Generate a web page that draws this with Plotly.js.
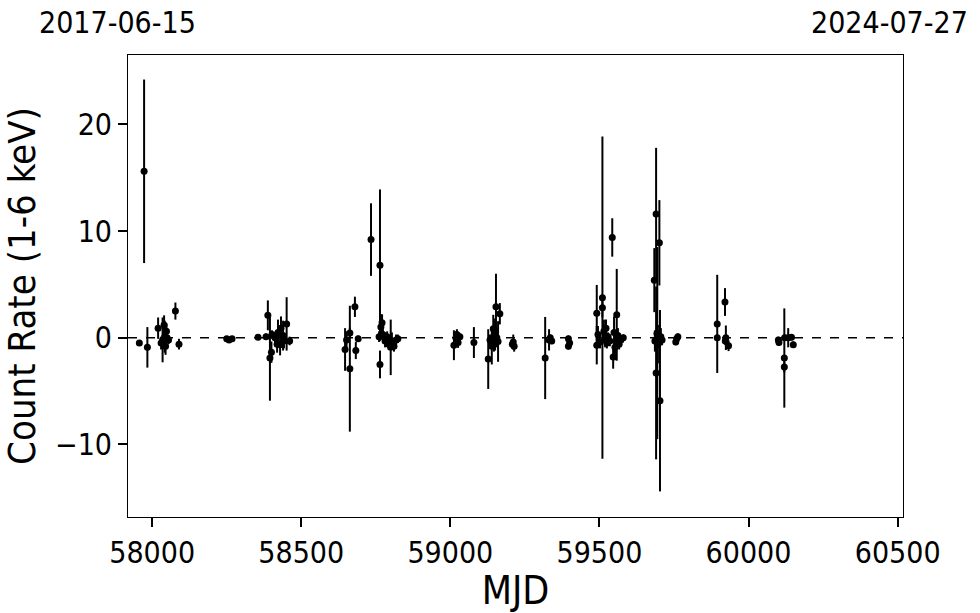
<!DOCTYPE html>
<html>
<head>
<meta charset="utf-8">
<script src="https://cdn.plot.ly/plotly-3.0.1.min.js"></script>
<style>html,body{margin:0;padding:0;background:#fff;}#plot{width:980px;height:613px;}</style>
</head>
<body>
<div id="plot"></div>
<script>
// MJD of each observation
const mjd = [
  57957, 57973, 57984, 58020, 58030, 58035, 58040, 58042, 58045, 58048, 58050, 58055, 58078, 58090,
  58250, 58258, 58268, 58355,
  58382, 58388, 58395, 58400, 58402, 58412, 58419, 58422, 58429, 58432, 58439, 58442, 58451, 58461,
  58647, 58652, 58663, 58663, 58680, 58683, 58691,
  58734, 58761, 58764, 58764, 58767, 58771, 58774, 58781, 58788, 58793, 58800, 58804, 58811, 58818, 58824,
  59012, 59019, 59022, 59026, 59032, 59079,
  59127, 59133, 59139, 59144, 59146, 59150, 59153, 59156, 59160, 59166,
  59208, 59211, 59214,
  59318, 59331, 59335, 59340, 59396, 59396, 59400,
  59491, 59491, 59495, 59502, 59510, 59510, 59515, 59519, 59522, 59525, 59529, 59535, 59543, 59546,
  59549, 59552, 59558, 59559, 59562, 59566, 59572, 59580,
  59684, 59686, 59690, 59690, 59693, 59694, 59696, 59701, 59703, 59706, 59710,
  59756, 59759, 59763,
  59895, 59895, 59921, 59922, 59924, 59933,
  60100, 60102, 60120, 60120, 60121, 60133, 60144, 60150
];
// Count rate (1-6 keV)
const rate = [
  -0.5, 15.6, -0.9, 0.9, -0.5, -0.2, 1.2, 0.1, -0.8, 0.6, 0.0, -0.2, 2.5, -0.6,
  -0.1, -0.2, -0.1, 0.05,
  0.1, 2.1, -1.9, -1.35, 0.3, 0.0, -0.6, 0.5, -0.65, 0.9, 0.2, -0.3, 1.3, -0.3,
  -1.1, -0.2, 0.45, -2.9, 2.9, -1.2, -0.1,
  9.2, 0.1, 6.8, -2.5, 1.0, 1.4, 0.3, -0.3, 0.1, -0.6, -0.9, -0.3, -0.8, -0.2, -0.1,
  -0.7, 0.0, 0.3, -0.45, 0.1, -0.45,
  -2.0, -0.2, -0.8, 0.85, -0.3, 0.3, 2.9, 0.0, -0.35, 2.25,
  -0.6, -0.4, -0.8,
  -1.9, -0.2, 0.0, -0.3, -0.1, -0.8, -0.5,
  2.3, -0.7, 0.3, -0.4, 3.75, 2.8, 0.6, -0.2, 0.9, -0.5, 0.1, -0.3, 9.4, -1.8,
  0.5, -0.9, 2.15, -0.3, 0.2, -0.6, -0.2, 0.0,
  5.4, -0.3, 11.6, -3.3, 0.4, -0.5, -0.6, 8.9, -5.9, 0.1, -0.2,
  -0.4, -0.1, 0.1,
  1.3, 0.0, 3.35, -0.3, 0.0, -0.75,
  -0.2, -0.45, -1.9, -2.75, 0.0, 0.0, 0.05, -0.65
];
// 1-sigma uncertainty
const rateErr = [
  0.2, 8.6, 1.9, 1.0, 0.6, 2.1, 0.9, 1.5, 0.8, 0.7, 0.5, 0.4, 0.8, 0.5,
  0.2, 0.2, 0.2, 0.2,
  0.3, 1.4, 4.0, 1.0, 0.4, 0.5, 0.8, 1.2, 1.0, 1.1, 1.4, 0.7, 2.5, 0.4,
  2.0, 0.8, 0.5, 5.9, 0.95, 0.8, 0.3,
  3.4, 0.5, 7.1, 1.3, 1.2, 0.8, 0.5, 0.6, 0.5, 0.5, 2.6, 0.8, 0.5, 0.5, 0.4,
  1.4, 0.6, 0.5, 0.5, 0.3, 1.45,
  2.8, 0.5, 1.7, 1.3, 1.0, 1.5, 3.1, 0.9, 1.9, 1.0,
  0.4, 0.7, 0.5,
  3.85, 1.0, 0.3, 0.3, 0.3, 0.3, 0.3,
  2.65, 1.8, 0.8, 0.6, 15.1, 0.9, 1.1, 0.7, 0.8, 0.5, 0.4, 0.5, 1.8, 1.1,
  1.5, 1.2, 4.3, 0.6, 0.7, 0.5, 0.4, 0.3,
  3.0, 1.0, 6.2, 8.1, 1.5, 9.0, 1.8, 4.0, 8.5, 0.8, 0.5,
  0.3, 0.3, 0.3,
  4.6, 0.3, 1.3, 0.4, 1.15, 0.5,
  0.3, 0.3, 4.65, 0.5, 0.3, 0.9, 0.3, 0.3
];
const xTicks = [58000, 58500, 59000, 59500, 60000, 60500];
const yTicks = [-10, 0, 10, 20];
const startLabel = "2017-06-15";
const endLabel = "2024-07-27";
const xRange = [57919, 60518];
const yRange = [-16.8, 26.5];

const fontFam = "'DejaVu Sans Condensed', 'DejaVu Sans', sans-serif";

const trace = {
  x: mjd, y: rate, type: 'scatter', mode: 'markers',
  marker: {color: 'black', size: 7},
  error_y: {type: 'data', array: rateErr, visible: true, color: 'black', thickness: 2, width: 0},
  showlegend: false, hoverinfo: 'x+y'
};

const layout = {
  width: 980, height: 613,
  margin: {l: 128, r: 77, t: 55, b: 96},
  paper_bgcolor: 'white', plot_bgcolor: 'white',
  font: {family: fontFam, color: 'black', size: 30},
  xaxis: {
    range: xRange, tickvals: xTicks, ticktext: xTicks.map(String),
    ticks: 'outside', ticklen: 9, tickwidth: 2, tickcolor: 'black',
    showline: true, linecolor: 'black', linewidth: 1, mirror: true,
    showgrid: false, zeroline: false,
    tickfont: {size: 30, family: fontFam},
    title: {text: 'MJD', font: {size: 39, family: fontFam}, standoff: 0}
  },
  yaxis: {
    range: yRange, tickvals: yTicks, ticktext: yTicks.map(v => v < 0 ? '\u2212' + Math.abs(v) : String(v)),
    ticks: 'outside', ticklen: 9, tickwidth: 2, tickcolor: 'black',
    showline: true, linecolor: 'black', linewidth: 1, mirror: true,
    showgrid: false, zeroline: false,
    tickfont: {size: 30, family: fontFam},
    title: {text: 'Count Rate (1-6 keV)', font: {size: 38, family: fontFam}, standoff: 12}
  },
  shapes: [{
    type: 'line', xref: 'paper', x0: 0, x1: 1, yref: 'y', y0: 0, y1: 0,
    line: {color: 'black', width: 1.5, dash: 'dash'}, layer: 'above'
  }],
  annotations: [
    {text: startLabel, xref: 'paper', yref: 'paper', x: -0.013, y: 1.071, xanchor: 'center', yanchor: 'middle', showarrow: false, font: {size: 30, family: fontFam}},
    {text: endLabel, xref: 'paper', yref: 'paper', x: 0.983, y: 1.071, xanchor: 'center', yanchor: 'middle', showarrow: false, font: {size: 30, family: fontFam}}
  ]
};

Plotly.newPlot('plot', [trace], layout, {staticPlot: true, displayModeBar: false});
</script>
</body>
</html>
